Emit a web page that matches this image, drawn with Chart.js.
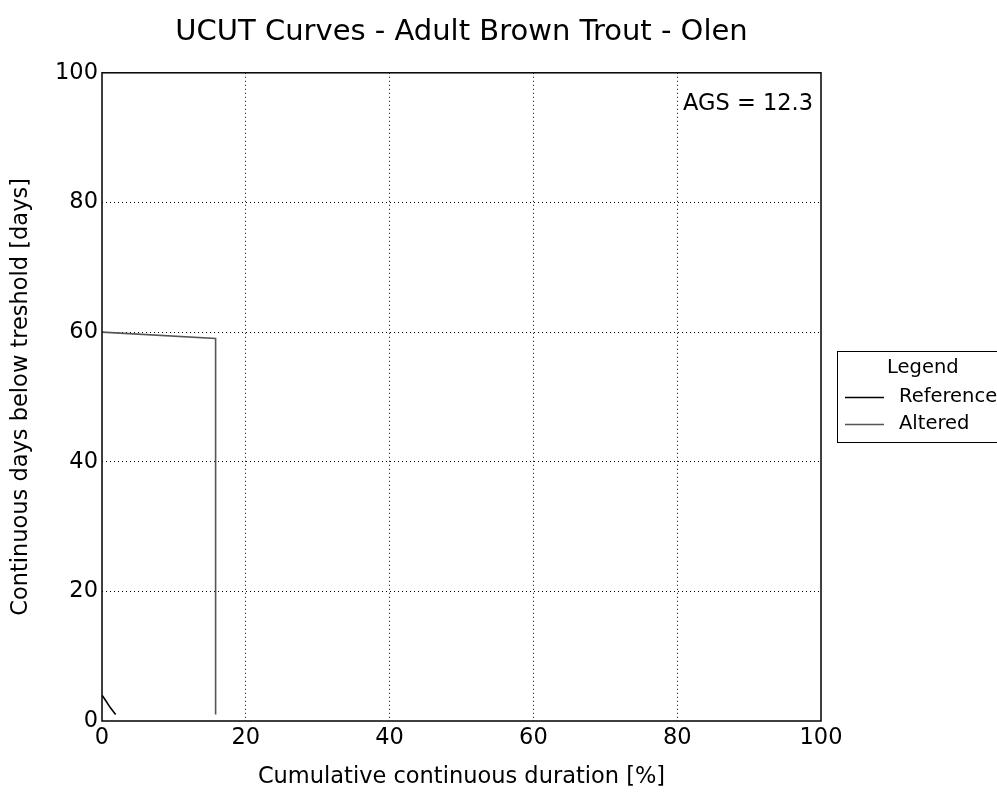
<!DOCTYPE html>
<html>
<head>
<meta charset="utf-8">
<script src="https://cdn.jsdelivr.net/npm/chart.js@4.4.0/dist/chart.umd.min.js"></script>
<style>
  html, body { margin: 0; padding: 0; background: #fff; }
  #wrap { width: 997px; height: 792px; }
</style>
</head>
<body>
<div id="wrap"><canvas id="chart" width="997" height="792"></canvas></div>
<script>
// data
const seriesNames = ["Reference", "Altered"];
const refDuration = [0, 0.6, 1.2, 1.9];
const refDays = [4, 3, 2, 1];
const altDuration = [0, 15.8, 15.8];
const altDays = [60, 59, 1];
const tickValues = [0, 20, 40, 60, 80, 100];
const agsText = "AGS = 12.3";

const toPoints = (xs, ys) => xs.map((x, i) => ({ x: x, y: ys[i] }));

// box around the plot, AGS label and outside legend like matplotlib
const extras = {
  id: "extras",
  afterLayout(chart) {
    // center the title over the plot area, not the whole canvas
    if (chart.titleBlock) {
      chart.titleBlock.left = chart.chartArea.left;
      chart.titleBlock.right = chart.chartArea.right;
    }
  },
  afterDraw(chart) {
    const ctx = chart.ctx;
    const a = chart.chartArea;
    ctx.save();
    ctx.strokeStyle = "#000";
    ctx.lineWidth = 1.5;
    ctx.strokeRect(a.left, a.top, a.right - a.left, a.bottom - a.top);

    ctx.font = "22.5px 'DejaVu Sans'";
    ctx.fillStyle = "#000";
    ctx.textAlign = "right";
    ctx.textBaseline = "middle";
    ctx.fillText(agsText, a.right - 8, a.top + 31);

    // legend box
    const lx = 837, ly = 351, lw = 170, lh = 91;
    ctx.lineWidth = 1;
    ctx.fillStyle = "#fff";
    ctx.fillRect(lx, ly, lw, lh);
    ctx.strokeRect(lx + 0.5, ly + 0.5, lw, lh);
    ctx.fillStyle = "#000";
    ctx.textAlign = "left";
    ctx.font = "19.5px 'DejaVu Sans'";
    ctx.fillText("Legend", 887, 368);
    chart.data.datasets.forEach((ds, i) => {
      const y = 397 + i * 27;
      ctx.strokeStyle = ds.borderColor;
      ctx.lineWidth = 1.3;
      ctx.beginPath();
      ctx.moveTo(845, y + 0.5);
      ctx.lineTo(884, y + 0.5);
      ctx.stroke();
      ctx.fillStyle = "#000";
      ctx.fillText(ds.label, 899, y);
    });
    ctx.restore();
  }
};

new Chart(document.getElementById("chart"), {
  type: "scatter",
  data: {
    datasets: [
      {
        label: seriesNames[0],
        data: toPoints(refDuration, refDays),
        showLine: true,
        borderColor: "#000000",
        borderWidth: 1.6,
        pointRadius: 0,
        tension: 0.3,
      },
      {
        label: seriesNames[1],
        data: toPoints(altDuration, altDays),
        showLine: true,
        borderColor: "#555555",
        borderWidth: 1.6,
        pointRadius: 0,
      },
    ],
  },
  options: {
    responsive: false,
    animation: false,
    layout: { padding: { left: 0, right: 176, top: 0, bottom: 0 } },
    plugins: {
      legend: { display: false },
      tooltip: { enabled: false },
      title: {
        display: true,
        text: "UCUT Curves - Adult Brown Trout - Olen",
        color: "#000",
        font: { family: "DejaVu Sans", size: 29, weight: "normal" },
        padding: { top: 15, bottom: 23 },
      },
    },
    scales: {
      x: {
        type: "linear",
        min: 0,
        max: 100,
        afterBuildTicks: (s) => { s.ticks = tickValues.map((v) => ({ value: v })); },
        afterFit: (s) => { s.height = 71; },
        grid: {
          color: "#000",
          lineWidth: (c) => (c.tick.value === 0 || c.tick.value === 100 ? 0 : 1),
          drawTicks: false,
        },
        border: { display: false, dash: [1, 3] },
        ticks: { color: "#000", font: { family: "DejaVu Sans", size: 22.5 }, padding: 4, maxRotation: 0 },
        title: {
          display: true,
          text: "Cumulative continuous duration [%]",
          color: "#000",
          font: { family: "DejaVu Sans", size: 22.5 },
          padding: { top: 0, bottom: 1 },
        },
      },
      y: {
        type: "linear",
        min: 0,
        max: 100,
        afterBuildTicks: (s) => { s.ticks = tickValues.map((v) => ({ value: v })); },
        afterFit: (s) => { s.width = 102; },
        grid: {
          color: "#000",
          lineWidth: (c) => (c.tick.value === 0 || c.tick.value === 100 ? 0 : 1),
          drawTicks: false,
        },
        border: { display: false, dash: [1, 3] },
        ticks: { color: "#000", font: { family: "DejaVu Sans", size: 22.5 }, padding: 4 },
        title: {
          display: true,
          text: "Continuous days below treshold [days]",
          color: "#000",
          font: { family: "DejaVu Sans", size: 22.5 },
          padding: { top: 8, bottom: 0 },
        },
      },
    },
  },
  plugins: [extras],
});
</script>
</body>
</html>
